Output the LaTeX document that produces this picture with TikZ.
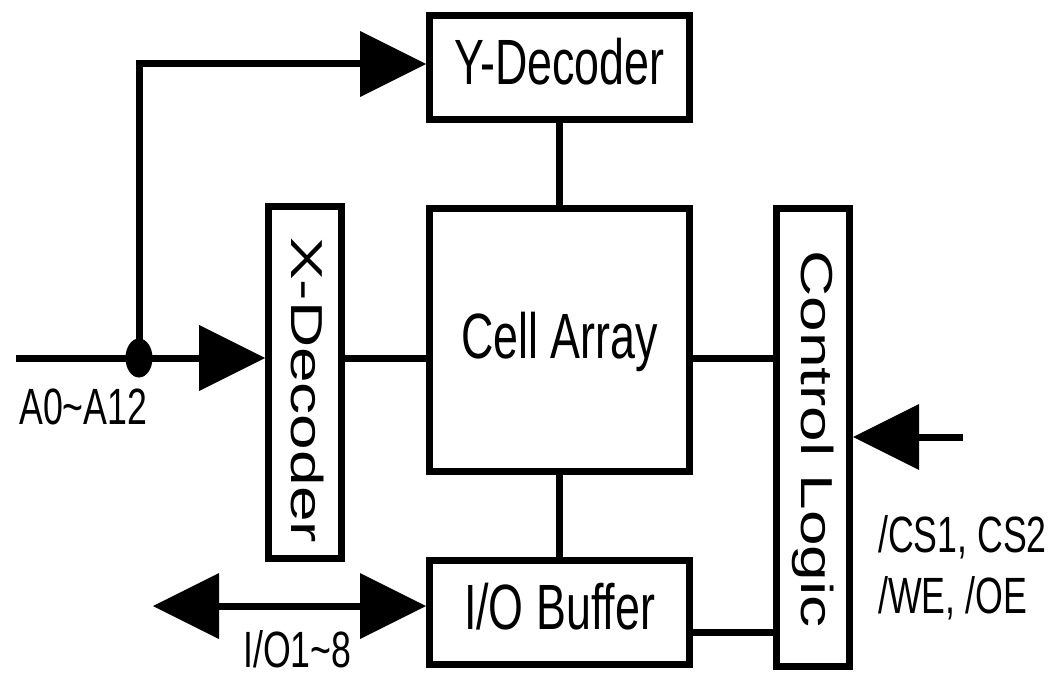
\documentclass[tikz,border=0pt]{standalone}
\usepackage{fontspec}
\setmainfont{Liberation Sans}
\usepackage{graphicx}
\usetikzlibrary{arrows.meta}
\begin{document}
\begin{tikzpicture}[x=1pt,y=-1pt,
  blk/.style={draw, line width=7pt, rectangle, inner sep=0pt},
  big/.style={font=\fontsize{64}{70}\selectfont},
  sml/.style={font=\fontsize{51}{56}\selectfont, inner sep=0pt},
  wire/.style={line width=7pt},
  arr/.style={-{Triangle[length=66pt,width=66pt,line width=0pt]}},
  darr/.style={{Triangle[length=66pt,width=66pt,line width=0pt]}-{Triangle[length=66pt,width=66pt,line width=0pt]}},
]
\useasboundingbox (0,0) rectangle (1055,679);
% blocks
\node[blk,big,text depth=12pt,minimum width=260pt,minimum height=104pt] (ydec) at (559.5,67.5) {\scalebox{0.7}[1]{Y-Decoder}};
\node[blk,big,text depth=9pt,minimum width=260pt,minimum height=263pt] (cell) at (559.5,340) {\scalebox{0.7}[1]{Cell Array}};
\node[blk,big,text depth=12pt,minimum width=260pt,minimum height=104pt] (iob) at (559.5,612.5) {\scalebox{0.7}[1]{I/O Buffer}};
\node[blk,big,text height=15pt,minimum width=73pt,minimum height=352pt] (xdec) at (305,382.5) {\kern6pt\rotatebox{-90}{\scalebox{1}[0.7]{X-Decoder}}};
\node[blk,big,text height=3pt,minimum width=73pt,minimum height=458pt] (ctrl) at (813,437.5) {\rotatebox{-90}{\scalebox{1}[0.7]{Control Logic}}};
% coordinates
\coordinate (ain) at (16,358);
\coordinate (j) at (139,358);
\coordinate (jt) at (139,64);
\coordinate (csin) at (963,437);
\coordinate (ioL) at (153,606);
% connectors
\draw[wire,arr] (ain) -- (ain -| xdec.west);
\draw[wire,arr] (j) -- (jt) -- (jt -| ydec.west);
\fill (j) ellipse [x radius=13.5pt, y radius=19.5pt];
\draw[wire] (ain -| xdec.east) -- (ain -| cell.west);
\draw[wire] (ain -| cell.east) -- (ain -| ctrl.west);
\draw[wire] (ydec) -- (cell);
\draw[wire] (cell) -- (iob);
\draw[wire] ([yshift=-20pt]iob.east) -- ([yshift=-20pt]iob.east -| ctrl.west);
\draw[wire,arr] (csin) -- (csin -| ctrl.east);
\draw[wire,darr] (ioL) -- (ioL -| iob.west);
% labels
\node[sml,anchor=base west] (la) at (19,424) {\scalebox{0.7}[1]{A0\textasciitilde A12}};
\node[sml,anchor=base west] (lio) at (243,667) {\scalebox{0.7}[1]{I/O1\textasciitilde 8}};
\node[sml,anchor=base west] (lcs) at (878,552) {\scalebox{0.7}[1]{/CS1, CS2}};
\node[sml,anchor=base west] (lwe) at (878,613) {\scalebox{0.7}[1]{/WE, /OE}};
\end{tikzpicture}
\end{document}
